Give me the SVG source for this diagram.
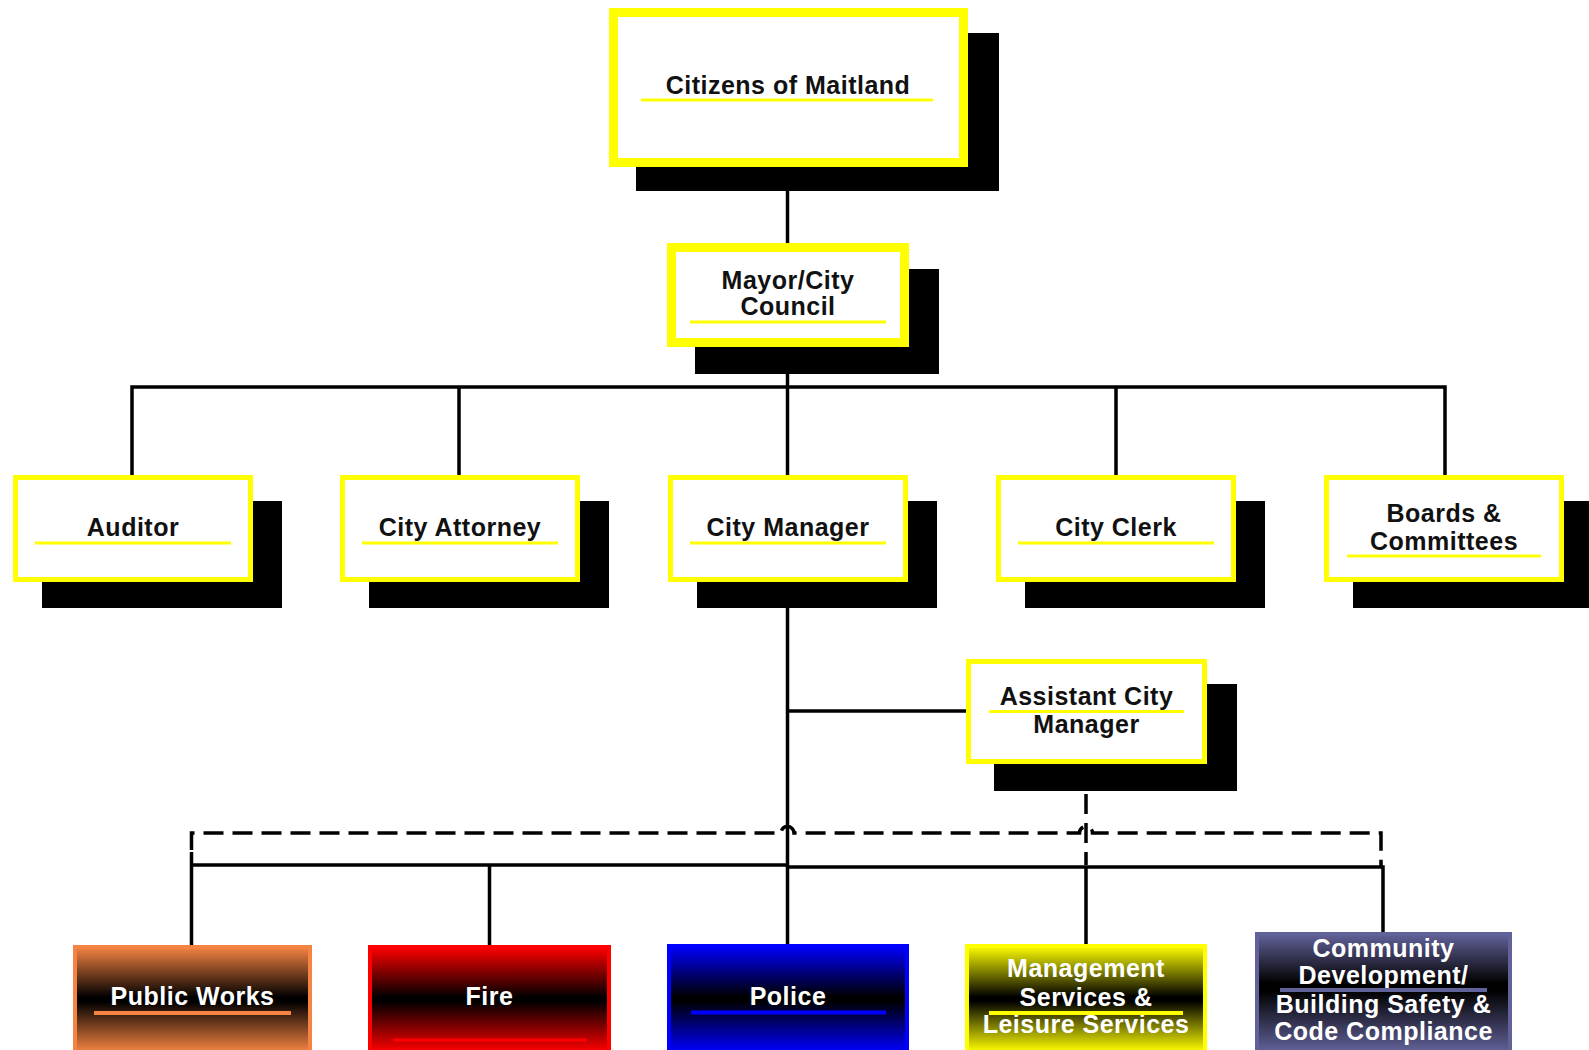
<svg xmlns="http://www.w3.org/2000/svg" width="1589" height="1050" viewBox="0 0 1589 1050">
<defs>
<style>
.sh{fill:#000}
.bx{fill:#fff;stroke:#ffff00;stroke-width:5}
.bx2{stroke-width:9}
.t{font-family:"Liberation Sans",Arial,Helvetica,sans-serif;font-weight:bold;font-size:25px;text-anchor:middle;letter-spacing:0.5px}
.dk{fill:#111}
.wt{fill:#fff}
.ul{stroke-width:3;fill:none}
.ln{stroke:#000;stroke-width:3.5;fill:none}
.ds{stroke-dasharray:20 9}
.bb{stroke-width:4}
</style>
<linearGradient id="gPW" x1="0" y1="0" x2="0" y2="1"><stop offset="0" stop-color="#f58442"/><stop offset="0.48" stop-color="#000"/><stop offset="0.52" stop-color="#000"/><stop offset="1" stop-color="#f58442"/></linearGradient>
<linearGradient id="gF" x1="0" y1="0" x2="0" y2="1"><stop offset="0" stop-color="#ff0000"/><stop offset="0.48" stop-color="#000"/><stop offset="0.52" stop-color="#000"/><stop offset="1" stop-color="#ff0000"/></linearGradient>
<linearGradient id="gP" x1="0" y1="0" x2="0" y2="1"><stop offset="0" stop-color="#0000ff"/><stop offset="0.48" stop-color="#000"/><stop offset="0.52" stop-color="#000"/><stop offset="1" stop-color="#0000ff"/></linearGradient>
<linearGradient id="gM" x1="0" y1="0" x2="0" y2="1"><stop offset="0" stop-color="#ffff00"/><stop offset="0.48" stop-color="#000"/><stop offset="0.52" stop-color="#000"/><stop offset="1" stop-color="#ffff00"/></linearGradient>
<linearGradient id="gC" x1="0" y1="0" x2="0" y2="1"><stop offset="0" stop-color="#62629a"/><stop offset="0.42" stop-color="#000"/><stop offset="0.48" stop-color="#000"/><stop offset="1" stop-color="#62629a"/></linearGradient>
</defs>
<rect width="1589" height="1050" fill="#fff"/>

<!-- shadows -->
<g id="shadows">
<rect class="sh" x="636" y="33" width="363" height="158"/>
<rect class="sh" x="695" y="269" width="244" height="105"/>
<rect class="sh" x="42" y="501" width="240" height="107"/>
<rect class="sh" x="369" y="501" width="240" height="107"/>
<rect class="sh" x="697" y="501" width="240" height="107"/>
<rect class="sh" x="1025" y="501" width="240" height="107"/>
<rect class="sh" x="1353" y="501" width="240" height="107"/>
<rect class="sh" x="994" y="684" width="243" height="107"/>
</g>

<g id="connectors">
<path class="ln" d="M787.5,167 V243"/>
<path class="ln" d="M787.5,347 V475"/>
<path class="ln" d="M132,475 V387 H1445 V475"/>
<path class="ln" d="M459,387 V475 M1116,387 V475"/>
<path class="ln" d="M787.5,582 V946"/>
<path class="ln" d="M787.5,711 H966"/>
<path class="ln" d="M191.5,852 V946 M191.5,865 H787.5 M787.5,867 H1383 V933"/>
<path class="ln" d="M489.5,865 V946 M1086,867 V946"/>
<path class="ln ds" d="M191.5,850 V833 H781 a6.5,6.5 0 0 1 13,0 H1079.5 a6.5,6.5 0 0 1 13,0 H1381 V866"/>
<path class="ln" d="M1086,764 V790"/>
<path class="ln ds" d="M1086,794 V865"/>
</g>

<g id="citizens">
<rect class="bx bx2" x="613.5" y="12.5" width="350" height="150"/>
<text class="t dk" x="788" y="94">Citizens of Maitland</text>
<line class="ul" stroke="#ffff00" x1="641" y1="100" x2="933" y2="100"/>
</g>

<g id="mayor">
<rect class="bx bx2" x="671.5" y="247.5" width="233" height="95"/>
<text class="t dk" x="788" y="289">Mayor/City</text>
<text class="t dk" x="788" y="315">Council</text>
<line class="ul" stroke="#ffff00" x1="690" y1="322" x2="886" y2="322"/>
</g>

<g id="auditor">
<rect class="bx" x="15.5" y="477.5" width="235" height="102"/>
<text class="t dk" x="133" y="536">Auditor</text>
<line class="ul" stroke="#ffff00" x1="35" y1="543" x2="231" y2="543"/>
</g>

<g id="attorney">
<rect class="bx" x="342.5" y="477.5" width="235" height="102"/>
<text class="t dk" x="460" y="536">City Attorney</text>
<line class="ul" stroke="#ffff00" x1="362" y1="543" x2="558" y2="543"/>
</g>

<g id="manager">
<rect class="bx" x="670.5" y="477.5" width="235" height="102"/>
<text class="t dk" x="788" y="536">City Manager</text>
<line class="ul" stroke="#ffff00" x1="690" y1="543" x2="886" y2="543"/>
</g>

<g id="clerk">
<rect class="bx" x="998.5" y="477.5" width="235" height="102"/>
<text class="t dk" x="1116" y="536">City Clerk</text>
<line class="ul" stroke="#ffff00" x1="1018" y1="543" x2="1214" y2="543"/>
</g>

<g id="boards">
<rect class="bx" x="1326.5" y="477.5" width="235" height="102"/>
<text class="t dk" x="1444" y="522">Boards &amp;</text>
<text class="t dk" x="1444" y="550">Committees</text>
<line class="ul" stroke="#ffff00" x1="1347" y1="556" x2="1541" y2="556"/>
</g>

<g id="assistant">
<rect class="bx" x="968.5" y="661.5" width="236" height="100"/>
<text class="t dk" x="1086.5" y="705">Assistant City</text>
<text class="t dk" x="1086.5" y="733">Manager</text>
<line class="ul" stroke="#ffff00" x1="989" y1="711.5" x2="1184" y2="711.5"/>
</g>

<g id="publicworks">
<rect class="bb" x="75" y="947" width="235" height="105" fill="url(#gPW)" stroke="#f58442"/>
<text class="t wt" x="192.5" y="1005">Public Works</text>
<line stroke="#f58442" stroke-width="4" x1="94" y1="1013" x2="291" y2="1013"/>
</g>

<g id="fire">
<rect class="bb" x="370" y="947" width="239" height="105" fill="url(#gF)" stroke="#ff0000"/>
<text class="t wt" x="489.5" y="1005">Fire</text>
<line stroke="#ff0000" stroke-width="3" x1="393" y1="1040" x2="587" y2="1040"/>
</g>

<g id="police">
<rect class="bb" x="669" y="946" width="238" height="106" fill="url(#gP)" stroke="#0000ff"/>
<text class="t wt" x="788" y="1005">Police</text>
<line stroke="#0000ff" stroke-width="4" x1="691" y1="1012.5" x2="886" y2="1012.5"/>
</g>

<g id="management">
<rect class="bb" x="967" y="946" width="238" height="106" fill="url(#gM)" stroke="#ffff00"/>
<text class="t wt" x="1086" y="977">Management</text>
<text class="t wt" x="1086" y="1006">Services &amp;</text>
<text class="t wt" x="1086" y="1033">Leisure Services</text>
<line stroke="#ffff00" stroke-width="4" x1="989" y1="1013" x2="1183" y2="1013"/>
</g>

<g id="community">
<rect class="bb" x="1257" y="934" width="253" height="118" fill="url(#gC)" stroke="#62629a"/>
<text class="t wt" x="1383.5" y="957">Community</text>
<text class="t wt" x="1383.5" y="984">Development/</text>
<text class="t wt" x="1383.5" y="1013">Building Safety &amp;</text>
<text class="t wt" x="1383.5" y="1040">Code Compliance</text>
<line stroke="#62629a" stroke-width="4" x1="1280" y1="990" x2="1487" y2="990"/>
</g>
</svg>
